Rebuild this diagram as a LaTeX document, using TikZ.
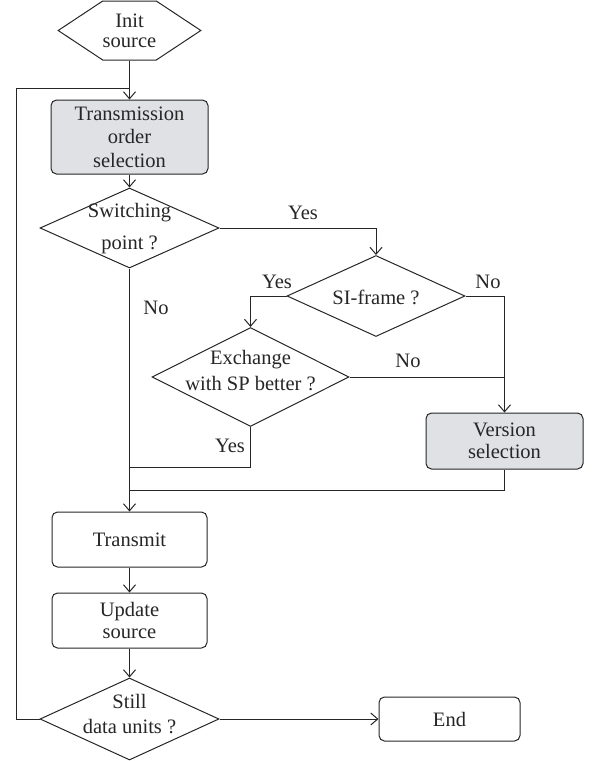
\documentclass[tikz,border=0pt]{standalone}
\usepackage{fontspec}
\setmainfont{Liberation Serif}
\usetikzlibrary{shapes.geometric,shapes.symbols,arrows.meta}
\definecolor{ink}{RGB}{38,38,38}
\definecolor{boxgray}{RGB}{224,225,229}

\begin{document}
\begin{tikzpicture}[x=1pt,y=-1pt,
  every node/.style={font=\fontsize{20.5}{23.5}\selectfont, text=ink},
  line/.style={draw=ink, line width=1pt},
  arr/.style={line, -{Straight Barb[length=7pt,width=12pt]}},
  proc/.style={draw=ink, line width=1pt, rounded corners=5.5pt, align=center, inner sep=0pt},
  shaded/.style={proc, fill=boxgray},
  decide/.style={draw=ink, line width=1pt, diamond, inner sep=0pt},
  txt/.style={align=center, inner sep=0pt},
  lbl/.style={inner sep=0pt}
]
\useasboundingbox (0,0) rectangle (592,761);

% start
\node[draw=ink, line width=1pt, signal, signal to=west and east,
      signal pointer angle=67, minimum width=141pt, minimum height=59pt,
      inner sep=0pt, align=center, font=\fontsize{20.5}{20}\selectfont]
      (init) at (129.5,30.5) {Init\\source};

% process boxes
\node[shaded, minimum width=157pt, minimum height=74pt] (trans) at (129.5,137)
      {Transmission\\order\\selection};
\node[shaded, minimum width=157pt, minimum height=56pt,
      font=\fontsize{20.5}{22}\selectfont] (ver) at (504.5,441) {Version\\selection};
\node[proc, minimum width=155pt, minimum height=55pt] (tx) at (129.5,539.5) {Transmit};
\node[proc, minimum width=155pt, minimum height=55pt,
      font=\fontsize{20.5}{21.5}\selectfont] (up) at (129.5,620.5) {Update\\source};
\node[proc, minimum width=141pt, minimum height=44pt] (end) at (449.5,719) {End};

% decisions
\node[decide, minimum width=179pt, minimum height=80pt] (sw) at (129.5,228) {};
\node[txt, font=\fontsize{20.5}{32}\selectfont] (swt) at (129.5,229) {Switching\\point ?};
\node[decide, minimum width=178pt, minimum height=81pt] (si) at (376,296) {};
\node[txt] (sit) at (376,297) {SI-frame ?};
\node[decide, minimum width=197pt, minimum height=99pt] (ex) at (250.5,377) {};
\node[txt, font=\fontsize{20.5}{26}\selectfont] (ext) at (250.5,370.5) {Exchange\\with SP better ?};
\node[decide, minimum width=179pt, minimum height=82pt] (still) at (129.5,719) {};
\node[txt, font=\fontsize{20.5}{25}\selectfont] (stillt) at (129.5,714.5) {Still\\data units ?};

% junction points
\coordinate (j1) at (129.5,467);
\coordinate (j2) at (129.5,490);
\coordinate (lp) at (16,88);
\coordinate (jt) at (129.5,88);

% connectors
\draw[arr] (init) -- (trans);
\draw[arr] (trans) -- (sw);
\draw[arr] (sw.east) -| (si.north);
\draw[arr] (si.west) -| (ex.north);
\draw[arr] (si.east) -| (ver.north);
\draw[line] (ex.east) -- (ex.east -| ver.north);
\draw[line] (ex.south) |- (j1);
\draw[line] (ver.south) |- (j2);
\draw[arr] (sw.south) -- (tx.north);
\draw[arr] (tx) -- (up);
\draw[arr] (up) -- (still);
\draw[arr] (still.east) -- (end.west);
\draw[line] (still.west) -| (lp) -- (jt);

% branch labels
\node[lbl] (y1) at (303,213) {Yes};
\node[lbl] (y2) at (277,282) {Yes};
\node[lbl] (n1) at (488,282) {No};
\node[lbl] (n2) at (156,308) {No};
\node[lbl] (n3) at (408,361) {No};
\node[lbl] (y3) at (230,446) {Yes};
\end{tikzpicture}
\end{document}
